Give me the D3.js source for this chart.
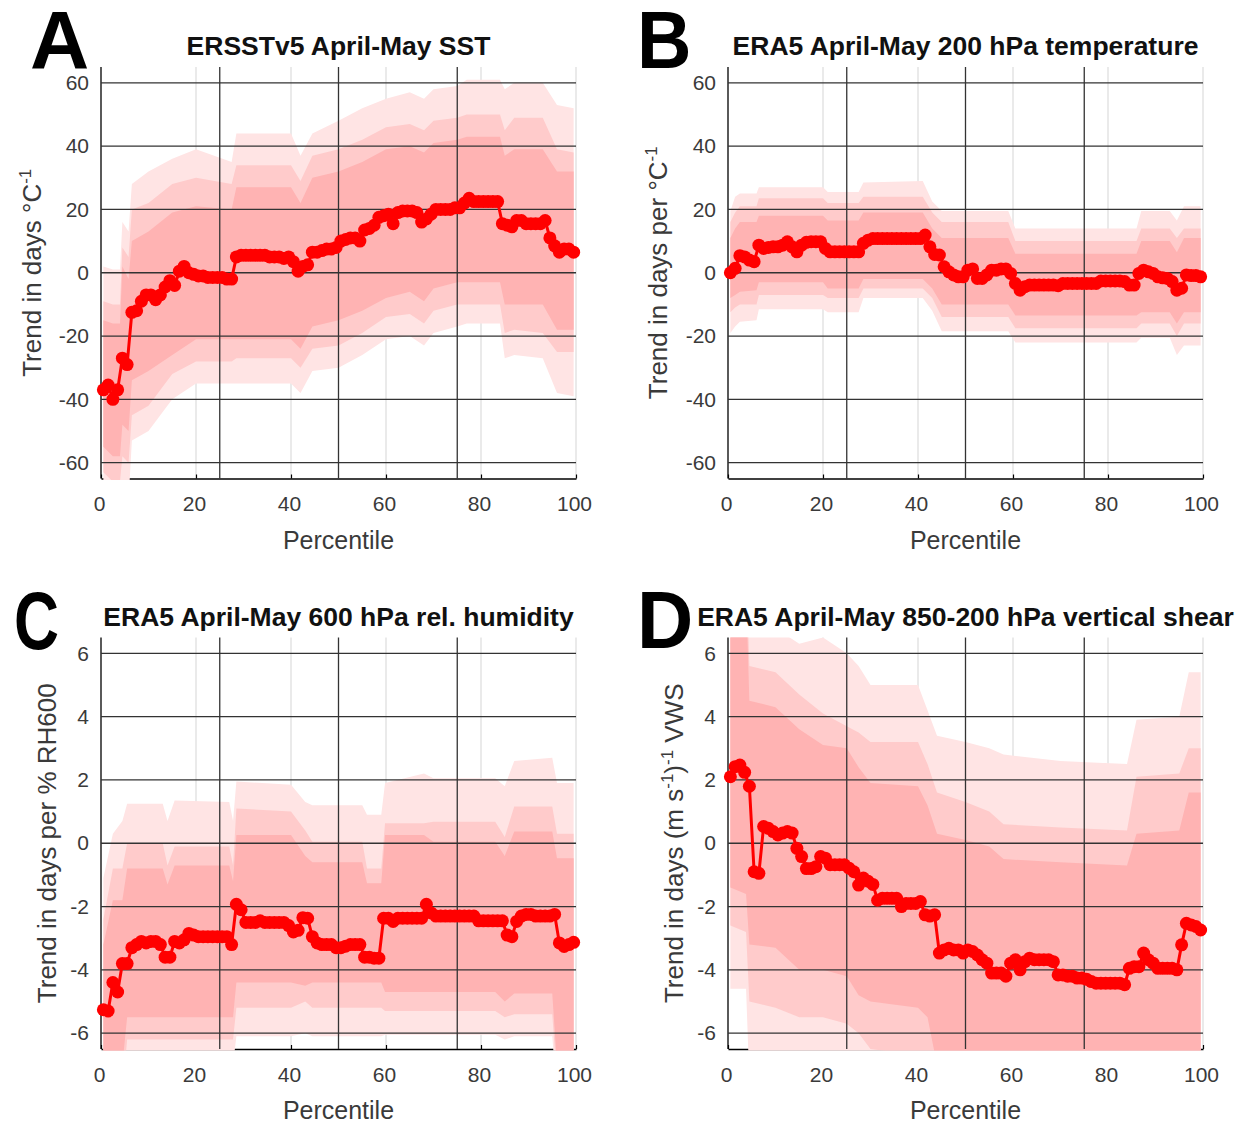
<!DOCTYPE html>
<html>
<head>
<meta charset="utf-8">
<script src="https://cdn.jsdelivr.net/npm/d3@7"></script>
<style>
  body { margin: 0; background: #fff; }
  svg text { font-family: "Liberation Sans", Arial, sans-serif; }
</style>
</head>
<body>
<div class="chart"></div>
<script>
// Percentile trend panels (A-D)

// x positions of the markers (percentiles)
var pct = d3.range(0.5, 100, 1);
var xTicks = [0, 20, 40, 60, 80, 100];
var quartiles = [25, 50, 75];
var yTicksTemp = [-60, -40, -20, 0, 20, 40, 60];
var yTicksSmall = [-6, -4, -2, 0, 2, 4, 6];

// central trend estimates, one value per percentile
var medA = [
  -37, -35.5, -40, -37, -27, -29, -12.5, -12, -9, -7,
  -7, -8.5, -7, -4.5, -2.5, -4, 0.5, 2, 0, -0.5,
  -1, -1, -1.5, -1.5, -1.5, -1.5, -2, -2, 5, 5.5,
  5.5, 5.5, 5.5, 5.5, 5.5, 5, 5, 5, 4.5, 5,
  3.5, 0.5, 2, 2.5, 6.5, 6.5, 7, 7.5, 7.5, 8,
  10, 10.5, 11, 11, 10, 13.5, 14, 15, 17.5, 18,
  18.5, 15.5, 19, 19.5, 19.5, 19.5, 19, 16, 17, 18.5,
  20, 20, 20, 20, 20.5, 20.5, 22, 23.5, 22.5, 22.5,
  22.5, 22.5, 22.5, 22.5, 15.5, 15, 14.5, 16.5, 16.5, 15.5,
  15.5, 15.5, 15.5, 16.5, 11, 8.5, 6.5, 7.5, 7.5, 6.5
];
var medB = [
  0, 1.4, 5.4, 5, 4, 3.5, 8.7, 7.7, 8, 8.2,
  8.2, 8.7, 9.8, 8.2, 6.6, 8.7, 9.6, 9.8, 9.8, 9.8,
  7.7, 6.6, 6.6, 6.6, 6.6, 6.6, 6.6, 6.6, 9.3, 10.3,
  10.8, 10.8, 10.8, 10.8, 10.8, 10.8, 10.8, 10.8, 10.8, 10.8,
  10.8, 11.9, 8.2, 5.8, 5.6, 1.9, 0.3, -0.7, -1.3, -1.3,
  0.8, 1.2, -1.8, -1.8, -0.7, 0.8, 0.8, 1.2, 1.2, -0.2,
  -3.4, -5.5, -4.4, -3.9, -3.9, -3.9, -3.9, -3.9, -3.9, -4.1,
  -3.4, -3.4, -3.4, -3.4, -3.4, -3.4, -3.4, -3.4, -2.6, -2.6,
  -2.6, -2.6, -2.6, -2.8, -3.9, -3.9, -0.2, 0.8, 0.3, -0.2,
  -1.3, -1.6, -1.8, -2.8, -5.5, -4.9, -0.7, -0.9, -0.9, -1.3
];
var medC = [
  -5.26, -5.3, -4.4, -4.7, -3.8, -3.8, -3.3, -3.2, -3.1, -3.15,
  -3.1, -3.1, -3.2, -3.6, -3.6, -3.1, -3.15, -3.05, -2.85, -2.9,
  -2.95, -2.95, -2.95, -2.95, -2.95, -2.95, -2.95, -3.2, -1.93, -2.1,
  -2.5, -2.5, -2.5, -2.45, -2.5, -2.5, -2.5, -2.5, -2.5, -2.6,
  -2.8, -2.75, -2.35, -2.37, -2.95, -3.15, -3.2, -3.2, -3.2, -3.3,
  -3.3, -3.25, -3.2, -3.2, -3.2, -3.6, -3.6, -3.63, -3.63, -2.37,
  -2.37, -2.47, -2.37, -2.37, -2.37, -2.37, -2.37, -2.37, -1.93, -2.2,
  -2.3, -2.3, -2.3, -2.3, -2.3, -2.3, -2.3, -2.3, -2.3, -2.45,
  -2.45, -2.45, -2.45, -2.45, -2.45, -2.9, -2.95, -2.47, -2.3, -2.25,
  -2.25, -2.3, -2.3, -2.3, -2.3, -2.25, -3.15, -3.26, -3.2, -3.13
];
var medD = [
  2.1, 2.42, 2.47, 2.24, 1.8, -0.9, -0.95, 0.53, 0.47, 0.37,
  0.26, 0.32, 0.37, 0.32, -0.16, -0.42, -0.8, -0.8, -0.74, -0.42,
  -0.47, -0.68, -0.68, -0.68, -0.68, -0.79, -0.9, -1.32, -1.1, -1.2,
  -1.3, -1.8, -1.74, -1.74, -1.74, -1.74, -2, -1.9, -1.9, -1.9,
  -1.84, -2.26, -2.3, -2.26, -3.47, -3.37, -3.32, -3.37, -3.37, -3.47,
  -3.37, -3.42, -3.53, -3.68, -3.79, -4.1, -4.1, -4.1, -4.2, -3.79,
  -3.68, -4.0, -3.74, -3.63, -3.68, -3.68, -3.68, -3.68, -3.74, -4.16,
  -4.16, -4.2, -4.2, -4.26, -4.26, -4.3, -4.37, -4.42, -4.42, -4.42,
  -4.42, -4.42, -4.42, -4.47, -3.95, -3.9, -3.9, -3.47, -3.68, -3.79,
  -3.95, -3.95, -3.95, -3.95, -4.0, -3.21, -2.53, -2.58, -2.63, -2.74
];

// uncertainty bands read at break points:
// [percentile, outerLo, midLo, innerLo, innerHi, midHi, outerHi]
var bandA = [
  [0.5, -72, -63, -55, -15, -9, 2],
  [2.5, -75, -66, -58, -16, -10, 1],
  [4.0, -74, -66, -58, -16, -10, 1],
  [4.5, -70, -58, -48, 2, 8, 16],
  [5.8, -72, -60, -50, -2, 5, 13],
  [6.5, -53, -45, -34, 10, 20, 28],
  [10, -50, -42, -31, 13, 22, 32],
  [15, -40, -32, -26, 19, 28, 36],
  [20, -35, -28, -21, 21, 30, 39],
  [27.5, -35, -28, -21, 20, 28, 35],
  [28.5, -35, -27, -21, 27, 34, 44],
  [40, -35, -27, -21, 27, 34, 44],
  [42, -38, -30, -24, 22, 29, 37],
  [44.5, -31, -24, -17, 30, 37, 44],
  [50, -30, -23, -15, 32, 39, 48],
  [55, -26, -19, -12, 35, 42, 52],
  [60, -21, -14, -8, 39, 46, 55],
  [65, -20, -13, -6, 40, 47, 57],
  [68, -23, -16, -9, 38, 45, 55],
  [70, -19, -12, -5, 41, 48, 58],
  [75, -17, -10, -3, 42, 49, 59],
  [77, -16, -10, -3, 43, 50, 61],
  [84, -16, -10, -3, 43, 50, 61],
  [85, -27, -19, -10, 37, 45, 58],
  [87, -26, -18, -10, 39, 49, 60],
  [93, -27, -19, -10, 39, 49, 60],
  [96, -38, -25, -18, 32, 39, 53],
  [99.5, -39, -25, -18, 32, 38, 52]
];
var bandB = [
  [0.5, -19, -12.5, -8, 11, 16, 19.5],
  [1.5, -17, -11, -7, 14, 19, 24],
  [2.5, -15.5, -10, -6, 16, 21, 25],
  [6, -15, -10, -5.5, 16, 21, 25],
  [6.5, -11.5, -7, -3, 18, 23.5, 27],
  [20, -11.5, -7, -3, 18, 23.5, 27],
  [21, -12.5, -8, -5, 16.5, 22, 25.5],
  [27.5, -12.5, -8, -5, 16.5, 22, 25.5],
  [28.5, -8, -5, -2, 19, 24, 28.5],
  [41, -8, -5, -2, 19, 24, 29],
  [43, -12, -8, -5, 14, 19, 22.5],
  [45, -18.5, -14, -10, 11, 16, 19.5],
  [59, -18.5, -14, -10, 11, 16, 19.5],
  [60.5, -22, -17.5, -13.5, 6, 10, 14],
  [86, -22, -17.5, -13.5, 6, 10, 14],
  [87, -20.5, -16, -12.5, 10, 14, 19.5],
  [93, -20.5, -16, -12.5, 10, 14, 19.5],
  [94.5, -26, -20, -16, 6.5, 11, 16.5],
  [96, -23, -16, -12.5, 11, 14, 21],
  [99.5, -23, -16, -12.5, 11, 14, 21]
];
var bandC = [
  [0.5, -10, -9, -8, -3.2, -2.4, -1.1],
  [2.5, -10, -9, -8, -1.8, -0.8, 0.3],
  [4.5, -9, -8, -7, -1.8, -0.8, 0.7],
  [5.5, -7, -6.2, -5.5, -0.8, 0, 1.25],
  [13, -7, -6.2, -5.5, -0.8, 0, 1.25],
  [14, -7, -6.2, -5.5, -1.3, -0.7, 0.7],
  [15.5, -7, -6.2, -5.5, -0.7, -0.1, 1.35],
  [27, -7, -6.2, -5.5, -0.7, -0.1, 1.3],
  [27.8, -7, -6.2, -5.5, -1.2, -0.7, 0.7],
  [28.5, -6.1, -5.2, -4.4, 0.26, 1.1, 1.95],
  [40, -6.1, -5.2, -4.4, 0.26, 1.0, 1.85],
  [43, -6.0, -5.0, -4.5, -0.4, 0.4, 1.3],
  [44.5, -6.1, -5.2, -4.4, -0.6, 0.05, 1.2],
  [55, -6.1, -5.2, -4.4, -0.6, 0.05, 1.2],
  [56, -6.1, -5.2, -4.4, -1.26, -0.8, 0.9],
  [59, -6.1, -5.2, -4.4, -1.26, -0.8, 0.9],
  [59.8, -6.05, -5.3, -4.7, 0.26, 0.63, 1.9],
  [68, -6.05, -5.3, -4.7, 0.26, 0.63, 2.2],
  [70, -6.05, -5.3, -4.7, 0.05, 0.68, 2.05],
  [83, -6.05, -5.3, -4.7, 0.05, 0.68, 2.05],
  [85, -6.2, -5.5, -5.0, -0.4, 0.2, 1.8],
  [87, -6.1, -5.4, -4.75, 0.37, 1.16, 2.6],
  [95, -6.1, -5.4, -4.75, 0.37, 1.16, 2.7],
  [96, -8, -7.5, -7, -0.47, 0.3, 1.9],
  [99.5, -8, -7.5, -7, -0.47, 0.3, 1.9]
];
var bandD = [
  [0.5, -4.6, -2.6, -1.4, 8, 9, 10],
  [3.8, -4.6, -2.8, -1.6, 8, 9, 10],
  [4.5, -7.5, -5, -3.2, 4.5, 5.6, 7],
  [10, -7.5, -5.2, -3.3, 4.3, 5.4, 6.8],
  [15, -8, -5.5, -4, 3.6, 4.7, 6.3],
  [20, -8, -5.5, -4, 3.1, 4.1, 6.5],
  [25, -8, -5.7, -4.2, 3.0, 3.7, 6.0],
  [27.5, -8, -6, -4.8, 2.4, 3.5, 5.6],
  [30, -8.5, -6.5, -5.0, 1.9, 3.2, 5.0],
  [40, -8.5, -6.7, -5.2, 1.8, 3.2, 5.0],
  [42, -9, -7, -5.5, 1.2, 2.5, 4.2],
  [44, -9, -7.5, -7, 0.3, 1.6, 3.4],
  [50, -9, -8, -7, 0.1, 1.3, 3.2],
  [55, -9, -8, -7, -0.1, 1.0, 3.0],
  [58, -9, -8, -7, -0.5, 0.6, 2.8],
  [70, -9, -8, -7, -0.6, 0.5, 2.6],
  [84, -9, -8, -7, -0.7, 0.4, 2.5],
  [86, -9, -8, -7, 0.3, 2.1, 3.9],
  [95, -9, -8, -7, 0.4, 2.2, 4.0],
  [97, -9, -8, -7, 1.6, 3.0, 5.4],
  [99.5, -9, -8, -7, 1.6, 3.0, 5.4]
];

var panelLetters = ["A", "B", "C", "D"];
var panelTitles = [
  "ERSSTv5 April-May SST",
  "ERA5 April-May 200 hPa temperature",
  "ERA5 April-May 600 hPa rel. humidity",
  "ERA5 April-May 850-200 hPa vertical shear"
];
// y labels as pieces, sup = superscript
var yLabels = [
  [{t: "Trend in days °C"}, {t: "-1", sup: true}],
  [{t: "Trend in days per °C"}, {t: "-1", sup: true}],
  [{t: "Trend in days per % RH600"}],
  [{t: "Trend in days (m s"}, {t: "-1", sup: true}, {t: ")"}, {t: "-1", sup: true}, {t: " VWS"}]
];

var svgWidth = 1244;
var svgHeight = 1126;
var plotW = 475;
var plotH = 411.5;

var svg = d3.select(".chart")
    .append("svg")
    .attr("width", svgWidth)
    .attr("height", svgHeight);

var bandColors = ["#ffe4e4", "#ffcbcb", "#ffb3b3"];

var panels = [
  {left: 101, top: 67, lim: 65, yTicks: yTicksTemp, med: medA, band: bandA, labelX: 41, letterX: 30, letterY: 68, letterScale: 1},
  {left: 728, top: 67, lim: 65, yTicks: yTicksTemp, med: medB, band: bandB, labelX: 667, letterX: 637, letterY: 68, letterScale: 0.92},
  {left: 101, top: 637.5, lim: 6.5, yTicks: yTicksSmall, med: medC, band: bandC, labelX: 56, letterX: 14, letterY: 649, letterScale: 0.76},
  {left: 728, top: 637.5, lim: 6.5, yTicks: yTicksSmall, med: medD, band: bandD, labelX: 683, letterX: 637, letterY: 648, letterScale: 0.95}
];

panels.forEach(function (p, i) {
    var x = d3.scaleLinear().domain([0, 100]).range([p.left, p.left + plotW]);
    var y = d3.scaleLinear().domain([-p.lim, p.lim]).range([p.top + plotH, p.top]);
    var bottom = p.top + plotH;
    var g = svg.append("g");

    // light grid at the percentile ticks
    g.selectAll(".minor")
        .data(xTicks.slice(1))
        .enter()
        .append("line")
        .attr("x1", d => x(d)).attr("x2", d => x(d))
        .attr("y1", p.top).attr("y2", bottom)
        .attr("stroke", "#e3e3e3")
        .attr("stroke-width", 1.5);

    // axes
    var bottomAxis = d3.axisBottom(x)
        .tickValues(xTicks)
        .tickSize(-4)
        .tickSizeOuter(0)
        .tickPadding(18)
        .tickFormat(d => String(d));
    var leftAxis = d3.axisLeft(y)
        .tickValues(p.yTicks)
        .tickSize(0)
        .tickPadding(12)
        .tickFormat(d => String(d));

    var gx = g.append("g")
        .attr("transform", `translate(0, ${bottom})`)
        .call(bottomAxis);
    var gy = g.append("g")
        .attr("transform", `translate(${p.left}, 0)`)
        .call(leftAxis);
    gy.select(".domain").attr("d", `M0,${p.top}V${bottom}`);
    [gx, gy].forEach(function (a) {
        a.select(".domain").attr("stroke", "#000").attr("stroke-width", 1.3);
        a.selectAll(".tick line").attr("stroke", "#000").attr("stroke-width", 1.2);
        a.selectAll(".tick text")
            .attr("font-size", 21)
            .attr("fill", "#3a3a3a")
            .style("font-family", '"Liberation Sans", Arial, sans-serif');
    });
    gx.selectAll(".tick text").attr("dx", -2);

    // shaded bands, clipped to the plot box
    var clipId = "clip" + i;
    svg.append("clipPath").attr("id", clipId)
        .append("rect")
        .attr("x", p.left + 0.7).attr("y", p.top)
        .attr("width", plotW).attr("height", plotH + 1.5);
    var shade = g.append("g").attr("clip-path", `url(#${clipId})`);
    [[1, 6], [2, 5], [3, 4]].forEach(function (cols, k) {
        var area = d3.area()
            .x(d => x(d[0]))
            .y0(d => y(d[cols[0]]))
            .y1(d => y(d[cols[1]]));
        shade.append("path")
            .datum(p.band)
            .attr("d", area)
            .attr("fill", bandColors[k]);
    });

    // dark reference lines
    g.selectAll(".hgrid")
        .data(p.yTicks)
        .enter()
        .append("line")
        .attr("x1", p.left).attr("x2", p.left + plotW)
        .attr("y1", d => y(d)).attr("y2", d => y(d))
        .attr("stroke", "#333")
        .attr("stroke-width", 1.3);
    g.selectAll(".vgrid")
        .data(quartiles)
        .enter()
        .append("line")
        .attr("x1", d => x(d)).attr("x2", d => x(d))
        .attr("y1", p.top).attr("y2", bottom)
        .attr("stroke", "#333")
        .attr("stroke-width", 1.3);

    // trend line with markers
    var pts = pct.map((v, j) => [v, p.med[j]]);
    var line = d3.line().x(d => x(d[0])).y(d => y(d[1]));
    g.append("path")
        .datum(pts)
        .attr("d", line)
        .attr("fill", "none")
        .attr("stroke", "#ff0000")
        .attr("stroke-width", 3);
    g.selectAll(".dot")
        .data(pts)
        .enter()
        .append("circle")
        .attr("cx", d => x(d[0]))
        .attr("cy", d => y(d[1]))
        .attr("r", 6.5)
        .attr("fill", "#ff0000");

    // title
    g.append("text")
        .attr("x", p.left + plotW / 2)
        .attr("y", p.top - 12)
        .attr("text-anchor", "middle")
        .attr("font-size", 26.5)
        .attr("font-weight", "bold")
        .attr("fill", "#111")
        .text(panelTitles[i]);

    // x label
    g.append("text")
        .attr("x", p.left + plotW / 2)
        .attr("y", bottom + 70)
        .attr("text-anchor", "middle")
        .attr("font-size", 25)
        .attr("fill", "#3a3a3a")
        .text("Percentile");

    // y label
    var yl = g.append("text")
        .attr("transform", `translate(${p.labelX}, ${p.top + plotH / 2}) rotate(-90)`)
        .attr("text-anchor", "middle")
        .attr("font-size", 26)
        .attr("fill", "#3a3a3a");
    var shift = 0;
    yLabels[i].forEach(function (s) {
        var dy = s.sup ? -10 - shift : -shift;
        shift = s.sup ? -10 : 0;
        yl.append("tspan")
            .attr("dy", dy)
            .attr("font-size", s.sup ? 17 : 26)
            .text(s.t);
    });

    // panel letter
    svg.append("text")
        .attr("transform", `translate(${p.letterX}, ${p.letterY}) scale(${p.letterScale}, 1)`)
        .attr("font-size", 82)
        .attr("font-weight", "bold")
        .attr("fill", "#000")
        .text(panelLetters[i]);
});
</script>
</body>
</html>
